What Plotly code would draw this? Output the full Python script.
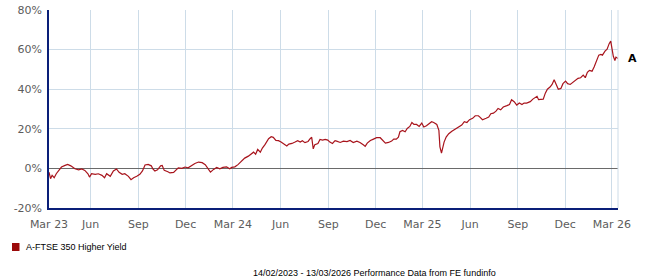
import plotly.graph_objects as go

series_name = "A-FTSE 350 Higher Yield"
end_label = "A"
footer_text = "14/02/2023 - 13/03/2026 Performance Data from FE fundinfo"

dates = [
    "2023-03-13", "2023-03-16", "2023-03-19", "2023-03-23", "2023-03-27", "2023-03-31",
    "2023-04-06", "2023-04-13", "2023-04-18", "2023-04-24", "2023-05-02", "2023-05-09",
    "2023-05-15", "2023-05-21", "2023-05-27", "2023-05-30", "2023-06-03", "2023-06-10",
    "2023-06-16", "2023-06-23", "2023-06-28", "2023-07-02", "2023-07-09", "2023-07-15",
    "2023-07-21", "2023-07-26", "2023-08-01", "2023-08-06", "2023-08-13", "2023-08-18",
    "2023-08-23", "2023-08-29", "2023-09-04", "2023-09-09", "2023-09-14", "2023-09-20",
    "2023-09-26", "2023-09-29", "2023-10-03", "2023-10-08", "2023-10-14", "2023-10-17",
    "2023-10-21", "2023-10-28", "2023-11-01", "2023-11-08", "2023-11-12", "2023-11-17",
    "2023-11-24", "2023-11-30", "2023-12-06",
    "2023-12-13", "2023-12-19", "2023-12-26", "2024-01-02", "2024-01-08", "2024-01-13",
    "2024-01-18", "2024-01-24", "2024-01-30", "2024-02-05", "2024-02-11", "2024-02-18",
    "2024-02-24", "2024-02-28", "2024-03-05", "2024-03-11", "2024-03-18", "2024-03-24",
    "2024-03-31", "2024-04-07", "2024-04-10", "2024-04-14", "2024-04-18", "2024-04-23",
    "2024-04-27", "2024-05-02", "2024-05-09", "2024-05-14", "2024-05-18", "2024-05-23",
    "2024-05-28", "2024-06-02", "2024-06-07", "2024-06-13", "2024-06-17", "2024-06-23",
    "2024-06-29", "2024-07-04", "2024-07-09", "2024-07-13", "2024-07-18", "2024-07-24",
    "2024-07-28", "2024-07-31", "2024-08-03", "2024-08-06", "2024-08-12", "2024-08-16",
    "2024-08-21", "2024-08-26", "2024-08-31", "2024-09-04", "2024-09-09", "2024-09-14",
    "2024-09-17", "2024-09-24", "2024-09-30", "2024-10-07", "2024-10-13", "2024-10-19",
    "2024-10-26", "2024-11-01", "2024-11-08", "2024-11-11", "2024-11-15", "2024-11-21",
    "2024-11-27", "2024-12-03", "2024-12-10", "2024-12-15", "2024-12-20", "2024-12-26",
    "2025-01-01", "2025-01-05", "2025-01-10", "2025-01-14", "2025-01-17", "2025-01-22",
    "2025-01-27", "2025-01-31", "2025-02-05", "2025-02-09", "2025-02-13", "2025-02-18",
    "2025-02-23", "2025-02-28", "2025-03-04", "2025-03-09", "2025-03-14", "2025-03-19",
    "2025-03-23", "2025-03-29", "2025-04-02", "2025-04-04", "2025-04-07", "2025-04-09",
    "2025-04-12", "2025-04-16", "2025-04-21", "2025-04-27", "2025-05-03", "2025-05-10",
    "2025-05-16", "2025-05-21", "2025-05-26", "2025-05-31", "2025-06-06", "2025-06-11",
    "2025-06-17", "2025-06-20",
    "2025-06-25", "2025-07-02", "2025-07-07", "2025-07-11", "2025-07-16", "2025-07-21",
    "2025-07-25", "2025-07-30", "2025-08-04", "2025-08-11", "2025-08-16", "2025-08-20",
    "2025-08-25", "2025-08-30", "2025-09-04", "2025-09-09", "2025-09-13", "2025-09-18",
    "2025-09-25", "2025-09-30", "2025-10-05", "2025-10-08", "2025-10-11", "2025-10-17",
    "2025-10-20", "2025-10-24", "2025-10-28", "2025-11-02", "2025-11-06", "2025-11-10",
    "2025-11-14", "2025-11-18", "2025-11-23", "2025-11-27", "2025-12-02", "2025-12-06",
    "2025-12-11", "2025-12-16", "2025-12-21", "2025-12-26", "2025-12-31", "2026-01-05",
    "2026-01-09", "2026-01-13", "2026-01-17", "2026-01-22", "2026-01-26", "2026-01-30",
    "2026-02-04", "2026-02-08", "2026-02-11", "2026-02-16", "2026-02-20", "2026-02-24",
    "2026-02-27", "2026-03-02", "2026-03-04", "2026-03-07", "2026-03-09", "2026-03-13",
]

values = [
    -1.9, -5.2, -3.5, -4.7, -2.7, -1.3,
    0.7, 1.5, 2.0, 1.3, -0.2, -0.7,
    -0.3, -1.0, -2.7, -4.4, -2.7, -3.0,
    -2.7, -3.5, -4.7, -2.7, -4.0, -1.3,
    -0.3, -2.0, -3.0, -2.7, -4.0, -5.7,
    -4.7, -4.0, -3.0, -1.3, 1.7, 2.0,
    1.3, -0.2, -1.3, -0.7, 1.3, 1.5,
    -1.0, -1.7, -2.3, -2.0, -1.0, 0.3,
    0.0, 0.7, 0.3,
    1.5, 2.5, 3.2, 2.9, 1.9, -0.2,
    -1.9, -0.5, 0.5, -0.2, 0.5, 0.8,
    -0.2, 0.5, 0.8, 1.9, 3.5, 5.2,
    6.2, 7.4, 8.2, 7.2, 9.6, 8.2,
    10.3, 12.0, 15.0, 16.0, 15.7, 14.1,
    14.0, 13.3, 12.3, 11.3, 12.3, 12.6,
    13.3, 14.0, 13.3, 14.0, 13.0, 13.6,
    15.0, 15.7, 9.9, 12.0, 12.6, 14.6,
    14.3, 14.6, 14.3, 13.3, 12.6, 14.0,
    13.8, 13.1, 13.8, 13.5, 14.1, 13.1,
    13.8, 13.1, 11.8, 11.1, 12.8, 14.1,
    14.8, 15.5, 15.5, 14.1, 12.8, 13.1,
    13.8, 14.8, 14.8, 15.8, 18.5, 19.2,
    18.5, 20.2, 21.2, 23.2, 22.2, 22.2,
    21.2, 22.9, 20.9, 21.5, 22.6, 23.6,
    23.2, 22.2, 19.2, 10.8, 7.7, 9.9,
    13.3, 15.8, 17.5, 18.8, 19.8, 20.9,
    21.9, 23.6, 23.2, 24.6, 25.3, 26.6,
    26.6, 25.9,
    24.6, 25.3, 25.9, 27.6, 27.9, 28.9,
    30.3, 29.6, 31.0, 31.7, 32.3, 34.7,
    33.7, 32.0, 33.0, 32.3, 33.0, 33.0,
    33.7, 35.0, 35.7, 36.4, 34.7, 34.7,
    35.0, 38.0, 40.0, 41.1, 42.4, 44.8,
    42.8, 40.0, 40.4, 42.8, 44.1, 42.8,
    42.4, 43.4, 44.8, 45.5, 45.8, 47.1,
    45.8, 48.5, 49.5, 49.1, 51.2, 53.5,
    57.2, 57.6, 57.2, 59.2, 60.2, 63.0,
    64.3, 59.6, 56.6, 54.5, 56.2, 55.5,
]

x_tick_vals = ["2023-03-13", "2023-06-01", "2023-09-01", "2023-12-01",
               "2024-03-01", "2024-06-01", "2024-09-01", "2024-12-01",
               "2025-03-01", "2025-06-01", "2025-09-01", "2025-12-01",
               "2026-03-01"]
x_tick_text = ["Mar 23", "Jun", "Sep", "Dec", "Mar 24", "Jun", "Sep", "Dec",
               "Mar 25", "Jun", "Sep", "Dec", "Mar 26"]
y_tick_vals = [-20, 0, 20, 40, 60, 80]
y_tick_text = ["-20%", "0%", "20%", "40%", "60%", "80%"]
x_range = ["2023-03-13", "2026-03-13"]
y_range = [-20, 80]

LINE = "#a8141c"
GRID = "#cddce8"
AXIS = "#0a1f78"
TICKFONT = dict(family="DejaVu Sans, Verdana, sans-serif", size=11, color="#5c5c5c")
SMALLFONT = dict(family="Liberation Sans, Arial, sans-serif", size=9, color="#000000")

fig = go.Figure()
fig.add_trace(go.Scatter(x=dates, y=values, mode="lines",
                         line=dict(color=LINE, width=1.2), name=series_name,
                         showlegend=False, hoverinfo="skip"))

W, H = 647, 280
L, R, T, B = 49, 29, 10, 72
pw, ph = W - L - R, H - T - B

def px(xp):
    return (xp - L) / pw

def py(yp):
    return (H - B - yp) / ph

fig.update_layout(
    width=W, height=H,
    margin=dict(l=L, r=R, t=T, b=B, pad=0, autoexpand=False),
    paper_bgcolor="white", plot_bgcolor="white",
    showlegend=False,
    xaxis=dict(type="date", range=x_range, tickvals=x_tick_vals, ticktext=x_tick_text,
               showgrid=True, gridcolor=GRID, gridwidth=1, automargin=False,
               showline=True, linecolor=AXIS, linewidth=1.5,
               ticks="", tickfont=TICKFONT, ticklabelstandoff=5, zeroline=False),
    yaxis=dict(range=y_range, tickvals=y_tick_vals, ticktext=y_tick_text,
               showgrid=True, gridcolor=GRID, gridwidth=1, automargin=False,
               showline=True, linecolor=AXIS, linewidth=1.5,
               zeroline=True, zerolinecolor="#6a6a6a", zerolinewidth=1,
               ticks="", tickfont=TICKFONT, ticklabelstandoff=3),
    shapes=[
        dict(type="line", xref="paper", yref="paper", x0=1, x1=1, y0=0, y1=1,
             line=dict(color=GRID, width=1)),
        dict(type="rect", xref="paper", yref="paper",
             x0=px(12), x1=px(19.5), y0=py(251), y1=py(243),
             fillcolor="#9b0a0a", line=dict(width=0)),
    ],
    annotations=[
        dict(text=end_label, xref="paper", yref="y", x=1, y=values[-1],
             xanchor="left", yanchor="middle", xshift=8, showarrow=False,
             font=dict(family="DejaVu Sans, sans-serif", size=11, color="#000000",
                       weight="bold")),
        dict(text=series_name, xref="paper", yref="paper", x=px(24), y=py(247),
             xanchor="left", yanchor="middle", showarrow=False, font=SMALLFONT),
        dict(text=footer_text, xref="paper", yref="paper", x=px(498), y=py(273),
             xanchor="right", yanchor="middle", showarrow=False, font=SMALLFONT),
    ],
)

fig.write_html("out.html")
